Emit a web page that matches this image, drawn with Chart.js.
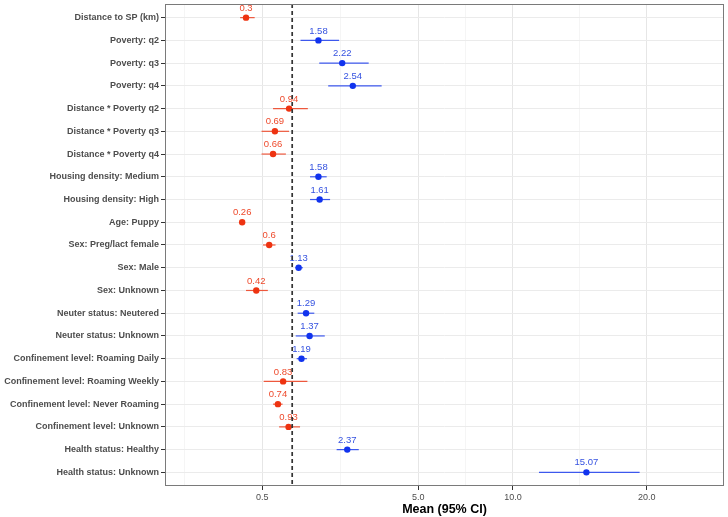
<!DOCTYPE html>
<html>
<head>
<meta charset="utf-8">
<title>Mean (95% CI)</title>
<script src="https://cdn.jsdelivr.net/npm/chart.js@4.4.1/dist/chart.umd.min.js"></script>
<style>
  html, body { margin: 0; padding: 0; background: #ffffff; }
  #wrap { width: 728px; height: 517px; }
</style>
</head>
<body>
<div id="wrap"><canvas id="forestChart" width="728" height="517"></canvas></div>
<script>
// 数据
const categories = [
  'Distance to SP (km)',
  'Poverty: q2',
  'Poverty: q3',
  'Poverty: q4',
  'Distance * Poverty q2',
  'Distance * Poverty q3',
  'Distance * Poverty q4',
  'Housing density: Medium',
  'Housing density: High',
  'Age: Puppy',
  'Sex: Preg/lact female',
  'Sex: Male',
  'Sex: Unknown',
  'Neuter status: Neutered',
  'Neuter status: Unknown',
  'Confinement level: Roaming Daily',
  'Confinement level: Roaming Weekly',
  'Confinement level: Never Roaming',
  'Confinement level: Unknown',
  'Health status: Healthy',
  'Health status: Unknown'
];
const means = [0.3, 1.58, 2.22, 2.54, 0.94, 0.69, 0.66, 1.58, 1.61, 0.26, 0.6,
               1.13, 0.42, 1.29, 1.37, 1.19, 0.83, 0.74, 0.93, 2.37, 15.07];
const lower = [0.24, 1.17, 1.60, 1.83, 0.66, 0.49, 0.49, 1.38, 1.38, 0.25, 0.51,
               1.06, 0.30, 1.11, 1.07, 1.09, 0.52, 0.66, 0.76, 2.06, 11.68];
const upper = [0.40, 2.13, 3.06, 3.52, 1.33, 0.94, 0.88, 1.79, 1.88, 0.27, 0.70,
               1.22, 0.58, 1.48, 1.74, 1.31, 1.32, 0.82, 1.16, 2.73, 19.39];
const xTickValues = [0.5, 5.0, 10.0, 20.0];
const refValue = 1;

const RED = '#ee3311';
const BLUE = '#1133ee';

// x 轴是平方根刻度
const tx = v => Math.sqrt(v);

function rowColor(i) {
  return means[i] < refValue ? RED : BLUE;
}

// 主刻度 + 次刻度（平方根空间中点）
function buildXTicks() {
  const major = xTickValues.map(v => ({ value: tx(v), major: true, raw: v }));
  const minor = [];
  minor.push({ value: major[0].value - (major[1].value - major[0].value) / 2, major: false });
  for (let i = 0; i < major.length - 1; i++) {
    minor.push({ value: (major[i].value + major[i + 1].value) / 2, major: false });
  }
  return major.concat(minor).sort((a, b) => a.value - b.value);
}
const xTicks = buildXTicks();

// 置信区间线，每行一条
const ciDatasets = categories.map((c, i) => ({
  type: 'scatter',
  showLine: true,
  data: [{ x: tx(lower[i]), y: i }, { x: tx(upper[i]), y: i }],
  borderColor: rowColor(i) + 'cc',
  borderWidth: 1.2,
  pointRadius: 0,
  order: 2
}));

const pointDataset = {
  type: 'scatter',
  data: means.map((m, i) => ({ x: tx(m), y: i })),
  pointBackgroundColor: means.map((m, i) => rowColor(i)),
  pointBorderWidth: 0,
  pointRadius: 3.2,
  order: 1
};

const refDataset = {
  type: 'scatter',
  showLine: true,
  data: [{ x: tx(refValue), y: -0.6 }, { x: tx(refValue), y: categories.length - 0.4 }],
  borderColor: '#333333',
  borderWidth: 1.7,
  borderDash: [4, 3],
  pointRadius: 0,
  order: 0
};

const datasets = ciDatasets.concat([pointDataset, refDataset]);
const pointIndex = ciDatasets.length;

// 数值标签 + 面板边框
const forestPlugin = {
  id: 'forest',
  afterDatasetDraw(chart, args) {
    if (args.index !== pointIndex) return;
    const ctx = chart.ctx;
    const meta = chart.getDatasetMeta(pointIndex);
    ctx.save();
    ctx.font = '9.5px "Liberation Sans", Arial, sans-serif';
    ctx.textAlign = 'center';
    ctx.textBaseline = 'middle';
    meta.data.forEach((el, i) => {
      ctx.fillStyle = means[i] < refValue ? '#ee4a2c' : '#3552e0';
      ctx.fillText(String(means[i]), el.x, el.y - 9.5);
    });
    ctx.restore();
  },
  afterDatasetsDraw(chart) {
    const a = chart.chartArea;
    const ctx = chart.ctx;
    ctx.save();
    ctx.strokeStyle = '#7a7a7a';
    ctx.lineWidth = 1;
    ctx.strokeRect(a.left + 0.5, a.top + 0.5, a.right - a.left - 1, a.bottom - a.top - 1);
    ctx.restore();
  }
};

function initForestChart() {
  const ctx = document.getElementById('forestChart').getContext('2d');
  Chart.defaults.font.family = '"Liberation Sans", Arial, sans-serif';
  new Chart(ctx, {
    type: 'scatter',
    data: { datasets: datasets },
    plugins: [forestPlugin],
    options: {
      responsive: false,
      animation: false,
      layout: { padding: { top: 0.5, right: 3, left: 0, bottom: 0 } },
      plugins: {
        legend: { display: false },
        tooltip: { enabled: false }
      },
      scales: {
        x: {
          type: 'linear',
          min: -0.246,
          max: 5.23,
          afterBuildTicks: scale => { scale.ticks = xTicks.map(t => ({ value: t.value, major: t.major })); },
          afterFit: scale => {
            scale.height = 31;
            scale.paddingLeft = 0;
            scale.paddingRight = 0;
          },
          ticks: {
            autoSkip: false,
            maxRotation: 0,
            padding: 2,
            color: '#4d4d4d',
            font: { size: 9 },
            callback: function(value, index) {
              const t = xTicks[index];
              return t && t.major ? t.raw.toFixed(1) : '';
            }
          },
          grid: {
            color: c => (c.tick && c.tick.major) ? '#e6e6e6' : '#f2f2f2',
            lineWidth: c => (c.tick && c.tick.major) ? 1 : 0.8,
            tickColor: c => (c.tick && c.tick.major) ? '#333333' : 'rgba(0,0,0,0)',
            tickLength: 4
          },
          border: { display: false },
          title: {
            display: true,
            text: 'Mean (95% CI)',
            color: '#000000',
            font: { size: 12.5, weight: 'bold' },
            padding: { top: 0, bottom: 0 }
          }
        },
        y: {
          type: 'linear',
          reverse: true,
          min: -0.6,
          max: categories.length - 0.4,
          afterBuildTicks: scale => { scale.ticks = categories.map((c, i) => ({ value: i })); },
          afterFit: scale => {
            scale.width = 165;
            scale.paddingTop = 0;
            scale.paddingBottom = 0;
          },
          ticks: {
            autoSkip: false,
            padding: 2,
            color: '#4d4d4d',
            font: { size: 9, weight: 'bold' },
            callback: value => categories[value]
          },
          grid: {
            color: '#ebebeb',
            lineWidth: 1,
            tickColor: '#333333',
            tickLength: 4
          },
          border: { display: false }
        }
      }
    }
  });
}

if (document.readyState === 'loading') {
  document.addEventListener('DOMContentLoaded', initForestChart);
} else {
  initForestChart();
}
</script>
</body>
</html>
